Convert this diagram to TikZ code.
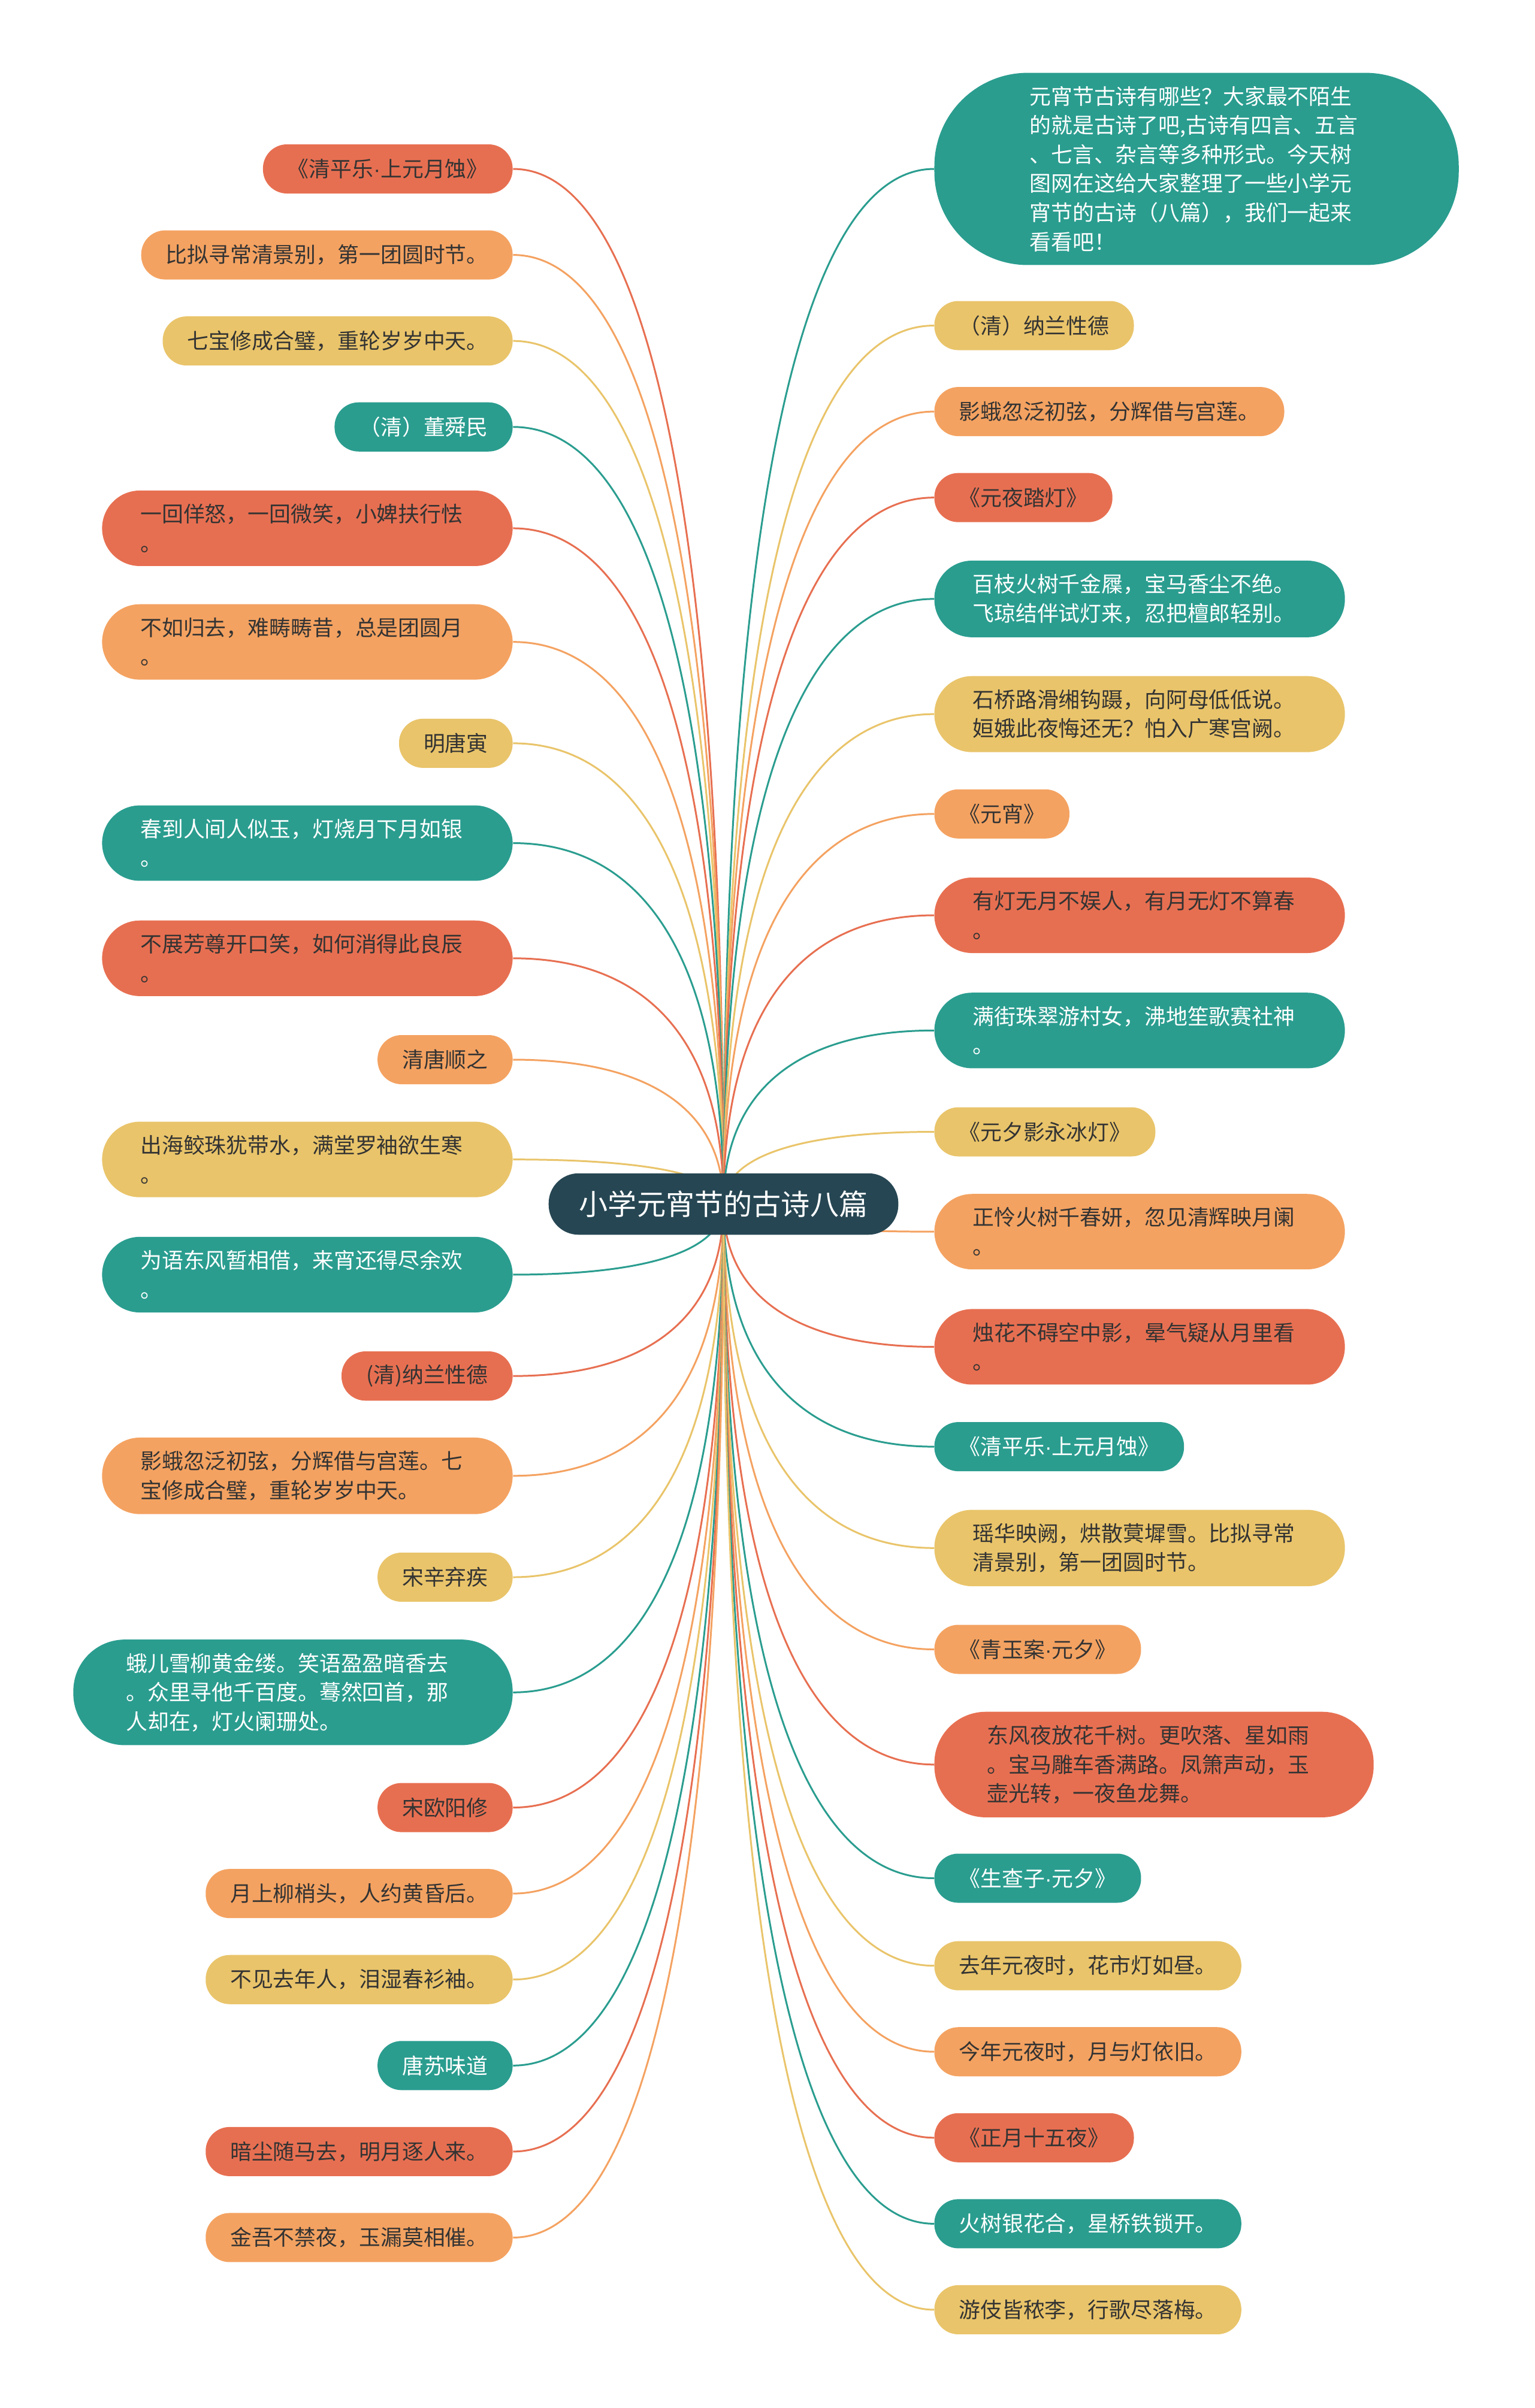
\documentclass[tikz,border=0pt]{standalone}
\usepackage{fontspec}
\setmainfont{Noto Sans CJK SC}
\newfontfamily\dotfont{Liberation Sans}
\usepackage{tikz}
\usetikzlibrary{calc}
\definecolor{tomato}{HTML}{E76F51}
\definecolor{sand}{HTML}{F4A261}
\definecolor{mustard}{HTML}{E9C46A}
\definecolor{jade}{HTML}{2A9D8F}
\definecolor{slate}{HTML}{264653}
\definecolor{ink}{HTML}{333333}
\newcommand{\md}{{\dotfont ·}}
\tikzstyle{leaf} = [rectangle, rounded corners=4mm, inner xsep=4.1mm, inner ysep=2.25mm, minimum height=8.2mm, font={\fontsize{10.2pt}{13.8pt}\selectfont}, text=ink]
\tikzstyle{poem} = [leaf, text width=55.7mm, align=left, rounded corners=6.3mm, inner xsep=6.4mm]
\tikzstyle{verse} = [poem, rounded corners=8.6mm, inner xsep=8.8mm]
\tikzstyle{intro} = [poem, rounded corners=15.6mm, inner xsep=15.9mm]
\tikzstyle{tomatobox} = [fill=tomato]
\tikzstyle{sandbox} = [fill=sand]
\tikzstyle{mustardbox} = [fill=mustard]
\tikzstyle{jadebox} = [fill=jade, text=white]
\tikzstyle{topic} = [rectangle, rounded corners=5mm, fill=slate, text=white, inner xsep=5.1mm, minimum height=10.25mm, font={\fontsize{13.7pt}{16pt}\selectfont}]
\tikzstyle{stem} = [line width=0.85pt, to path={.. controls ($(\tikztostart)!0.65!(\tikztostart |- \tikztotarget)$) and ($(\tikztotarget)!0.65!(\tikztostart |- \tikztotarget)$) .. (\tikztotarget)}]

\begin{document}
\begin{tikzpicture}[x=0.2563mm, y=-0.2563mm]
    \useasboundingbox (0,0) rectangle (999,1568);
    % left side
    \node[leaf,tomatobox,anchor=east](l1) at (334,110){《清平乐\md 上元月蚀》};
    \node[leaf,sandbox,anchor=east](l2) at (334,166){比拟寻常清景别，第一团圆时节。};
    \node[leaf,mustardbox,anchor=east](l3) at (334,222){七宝修成合璧，重轮岁岁中天。};
    \node[leaf,jadebox,anchor=east](l4) at (334,278){（清）董舜民};
    \node[poem,tomatobox,anchor=east](l5) at (334,344){一回佯怒，一回微笑，小婢扶行怯\\。};
    \node[poem,sandbox,anchor=east](l6) at (334,418){不如归去，难畴畴昔，总是团圆月\\。};
    \node[leaf,mustardbox,anchor=east](l7) at (334,484){明唐寅};
    \node[poem,jadebox,anchor=east](l8) at (334,549){春到人间人似玉，灯烧月下月如银\\。};
    \node[poem,tomatobox,anchor=east](l9) at (334,624){不展芳尊开口笑，如何消得此良辰\\。};
    \node[leaf,sandbox,anchor=east](l10) at (334,690){清唐顺之};
    \node[poem,mustardbox,anchor=east](l11) at (334,755){出海鲛珠犹带水，满堂罗袖欲生寒\\。};
    \node[poem,jadebox,anchor=east](l12) at (334,830){为语东风暂相借，来宵还得尽余欢\\。};
    \node[leaf,tomatobox,anchor=east](l13) at (334,896){(清)纳兰性德};
    \node[poem,sandbox,anchor=east](l14) at (334,961){影蛾忽泛初弦，分辉借与宫莲。七\\宝修成合璧，重轮岁岁中天。};
    \node[leaf,mustardbox,anchor=east](l15) at (334,1027){宋辛弃疾};
    \node[verse,jadebox,anchor=east](l16) at (334,1102){蛾儿雪柳黄金缕。笑语盈盈暗香去\\。众里寻他千百度。蓦然回首，那\\人却在，灯火阑珊处。};
    \node[leaf,tomatobox,anchor=east](l17) at (334,1177){宋欧阳修};
    \node[leaf,sandbox,anchor=east](l18) at (334,1233){月上柳梢头，人约黄昏后。};
    \node[leaf,mustardbox,anchor=east](l19) at (334,1289){不见去年人，泪湿春衫袖。};
    \node[leaf,jadebox,anchor=east](l20) at (334,1345){唐苏味道};
    \node[leaf,tomatobox,anchor=east](l21) at (334,1401){暗尘随马去，明月逐人来。};
    \node[leaf,sandbox,anchor=east](l22) at (334,1457){金吾不禁夜，玉漏莫相催。};
    % right side
    \node[intro,jadebox,anchor=west](r1) at (608,110){元宵节古诗有哪些？大家最不陌生\\的就是古诗了吧,古诗有四言、五言\\、七言、杂言等多种形式。今天树\\图网在这给大家整理了一些小学元\\宵节的古诗（八篇），我们一起来\\看看吧！};
    \node[leaf,mustardbox,anchor=west](r2) at (608,212){（清）纳兰性德};
    \node[leaf,sandbox,anchor=west](r3) at (608,268){影蛾忽泛初弦，分辉借与宫莲。};
    \node[leaf,tomatobox,anchor=west](r4) at (608,324){《元夜踏灯》};
    \node[poem,jadebox,anchor=west](r5) at (608,390){百枝火树千金屧，宝马香尘不绝。\\飞琼结伴试灯来，忍把檀郎轻别。};
    \node[poem,mustardbox,anchor=west](r6) at (608,465){石桥路滑缃钩蹑，向阿母低低说。\\姮娥此夜悔还无？怕入广寒宫阙。};
    \node[leaf,sandbox,anchor=west](r7) at (608,530){《元宵》};
    \node[poem,tomatobox,anchor=west](r8) at (608,596){有灯无月不娱人，有月无灯不算春\\。};
    \node[poem,jadebox,anchor=west](r9) at (608,671){满街珠翠游村女，沸地笙歌赛社神\\。};
    \node[leaf,mustardbox,anchor=west](r10) at (608,737){《元夕影永冰灯》};
    \node[poem,sandbox,anchor=west](r11) at (608,802){正怜火树千春妍，忽见清辉映月阑\\。};
    \node[poem,tomatobox,anchor=west](r12) at (608,877){烛花不碍空中影，晕气疑从月里看\\。};
    \node[leaf,jadebox,anchor=west](r13) at (608,942){《清平乐\md 上元月蚀》};
    \node[poem,mustardbox,anchor=west](r14) at (608,1008){瑶华映阙，烘散蓂墀雪。比拟寻常\\清景别，第一团圆时节。};
    \node[leaf,sandbox,anchor=west](r15) at (608,1074){《青玉案\md 元夕》};
    \node[verse,tomatobox,anchor=west](r16) at (608,1149){东风夜放花千树。更吹落、星如雨\\。宝马雕车香满路。凤箫声动，玉\\壶光转，一夜鱼龙舞。};
    \node[leaf,jadebox,anchor=west](r17) at (608,1223){《生查子\md 元夕》};
    \node[leaf,mustardbox,anchor=west](r18) at (608,1280){去年元夜时，花市灯如昼。};
    \node[leaf,sandbox,anchor=west](r19) at (608,1336){今年元夜时，月与灯依旧。};
    \node[leaf,tomatobox,anchor=west](r20) at (608,1392){《正月十五夜》};
    \node[leaf,jadebox,anchor=west](r21) at (608,1448){火树银花合，星桥铁锁开。};
    \node[leaf,mustardbox,anchor=west](r22) at (608,1504){游伎皆秾李，行歌尽落梅。};
    % connectors
    \coordinate (c) at (471,784);
    \draw[stem,tomato](c) to (l1.east);
    \draw[stem,sand](c) to (l2.east);
    \draw[stem,mustard](c) to (l3.east);
    \draw[stem,jade](c) to (l4.east);
    \draw[stem,tomato](c) to (l5.east);
    \draw[stem,sand](c) to (l6.east);
    \draw[stem,mustard](c) to (l7.east);
    \draw[stem,jade](c) to (l8.east);
    \draw[stem,tomato](c) to (l9.east);
    \draw[stem,sand](c) to (l10.east);
    \draw[stem,mustard](c) to (l11.east);
    \draw[stem,jade](c) to (l12.east);
    \draw[stem,tomato](c) to (l13.east);
    \draw[stem,sand](c) to (l14.east);
    \draw[stem,mustard](c) to (l15.east);
    \draw[stem,jade](c) to (l16.east);
    \draw[stem,tomato](c) to (l17.east);
    \draw[stem,sand](c) to (l18.east);
    \draw[stem,mustard](c) to (l19.east);
    \draw[stem,jade](c) to (l20.east);
    \draw[stem,tomato](c) to (l21.east);
    \draw[stem,sand](c) to (l22.east);
    \draw[stem,jade](c) to (r1.west);
    \draw[stem,mustard](c) to (r2.west);
    \draw[stem,sand](c) to (r3.west);
    \draw[stem,tomato](c) to (r4.west);
    \draw[stem,jade](c) to (r5.west);
    \draw[stem,mustard](c) to (r6.west);
    \draw[stem,sand](c) to (r7.west);
    \draw[stem,tomato](c) to (r8.west);
    \draw[stem,jade](c) to (r9.west);
    \draw[stem,mustard](c) to (r10.west);
    \draw[stem,sand](c) to (r11.west);
    \draw[stem,tomato](c) to (r12.west);
    \draw[stem,jade](c) to (r13.west);
    \draw[stem,mustard](c) to (r14.west);
    \draw[stem,sand](c) to (r15.west);
    \draw[stem,tomato](c) to (r16.west);
    \draw[stem,jade](c) to (r17.west);
    \draw[stem,mustard](c) to (r18.west);
    \draw[stem,sand](c) to (r19.west);
    \draw[stem,tomato](c) to (r20.west);
    \draw[stem,jade](c) to (r21.west);
    \draw[stem,mustard](c) to (r22.west);
    % centre
    \node[topic](root) at (c){小学元宵节的古诗八篇};
\end{tikzpicture}
\end{document}
